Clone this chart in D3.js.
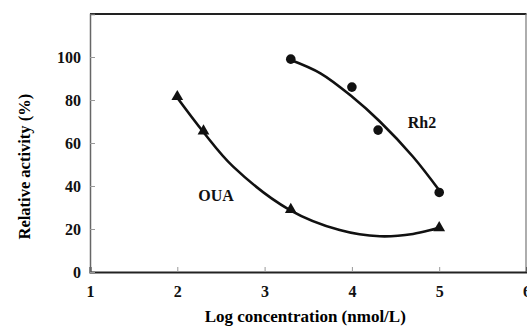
<!DOCTYPE html>
<html>
<head>
<meta charset="utf-8">
<script src="https://cdn.jsdelivr.net/npm/d3@7"></script>
<style>
  body { margin: 0; background: #fff; }
  svg { display: block; }
</style>
</head>
<body>
<div id="chart"></div>
<script>
// measured points
const ouaX = [2, 2.3, 3.3, 5]
const ouaY = [82, 66, 29.5, 21]
const rh2X = [3.3, 4, 4.3, 5]
const rh2Y = [99, 86, 66, 37]

// fitted trend lines
const ouaFitX = [2, 2.3, 2.64, 3.29, 3.86, 4.32, 4.7, 5]
const ouaFitY = [81, 65, 49, 28.8, 19.5, 16.6, 17.7, 20.6]
const rh2FitX = [3.3, 3.64, 4, 4.32, 4.7, 5]
const rh2FitY = [98.6, 92.4, 81.6, 70, 53.6, 38]

const xTicks = [1, 2, 3, 4, 5, 6]
const yTicks = [0, 20, 40, 60, 80, 100]

const size = [527, 327]
const margin = {top: 14, right: 0.5, bottom: 55, left: 90}
const font = "'Liberation Serif', 'Times New Roman', serif"

const svg = d3.select("#chart").append("svg")
  .attr("width", size[0])
  .attr("height", size[1])

const x = d3.scaleLinear()
  .domain([1, 6])
  .range([margin.left, size[0] - margin.right])

const y = d3.scaleLinear()
  .domain([0, 120])
  .range([size[1] - margin.bottom, margin.top])

// frame: top + right
svg.append("line")
  .attr("x1", x(1)).attr("x2", x(6))
  .attr("y1", y(120)).attr("y2", y(120))
  .attr("stroke", "#222").attr("stroke-width", 2)
svg.append("line")
  .attr("x1", x(6) - 0.5).attr("x2", x(6) - 0.5)
  .attr("y1", y(120)).attr("y2", y(0))
  .attr("stroke", "#777").attr("stroke-width", 1.2)

const xAxis = svg.append("g")
  .attr("transform", `translate(0,${y(0)})`)
  .call(d3.axisBottom(x).tickValues(xTicks).tickSize(-5).tickPadding(14).tickFormat(d3.format("d")))
xAxis.select(".domain").attr("stroke", "#222").attr("stroke-width", 2)

const yAxis = svg.append("g")
  .attr("transform", `translate(${margin.left},0)`)
  .call(d3.axisLeft(y).tickValues(yTicks).tickSize(-5).tickPadding(9))
yAxis.select(".domain").attr("stroke", "#666").attr("stroke-width", 1.5)

svg.selectAll(".tick line").attr("stroke", "#999").attr("stroke-width", 1)
svg.selectAll(".tick text")
  .attr("font-family", font)
  .attr("font-weight", "bold")
  .attr("font-size", 16)
  .attr("fill", "#111")

svg.append("text")
  .attr("x", (x(1) + x(6)) / 2 - 3)
  .attr("y", 322)
  .attr("text-anchor", "middle")
  .attr("font-family", font)
  .attr("font-weight", "bold")
  .attr("font-size", 17)
  .text("Log concentration (nmol/L)")

svg.append("text")
  .attr("transform", `translate(30,${y(49)}) rotate(-90)`)
  .attr("text-anchor", "middle")
  .attr("font-family", font)
  .attr("font-weight", "bold")
  .attr("font-size", 16.5)
  .text("Relative activity (%)")

const line = d3.line()
  .x(d => x(d[0]))
  .y(d => y(d[1]))
  .curve(d3.curveCatmullRom)

const curves = svg.append("g")
  .attr("fill", "none")
  .attr("stroke", "#111")
  .attr("stroke-width", 2.6)
  .attr("stroke-linecap", "round")

curves.append("path").attr("d", line(d3.zip(ouaFitX, ouaFitY)))
curves.append("path").attr("d", line(d3.zip(rh2FitX, rh2FitY)))

svg.append("g")
  .selectAll("path")
  .data(d3.zip(ouaX, ouaY))
  .join("path")
    .attr("transform", d => `translate(${x(d[0])},${y(d[1]) + 1})`)
    .attr("d", d3.symbol(d3.symbolTriangle, 60))
    .attr("fill", "#111")

svg.append("g")
  .selectAll("circle")
  .data(d3.zip(rh2X, rh2Y))
  .join("circle")
    .attr("cx", d => x(d[0]))
    .attr("cy", d => y(d[1]))
    .attr("r", 4.8)
    .attr("fill", "#111")

const labels = svg.append("g")
  .attr("font-family", font)
  .attr("font-weight", "bold")
  .attr("font-size", 16)
  .attr("fill", "#111")
labels.append("text").attr("x", x(2.24)).attr("y", y(33)).text("OUA")
labels.append("text").attr("x", x(4.64)).attr("y", y(67)).text("Rh2")
</script>
</body>
</html>
